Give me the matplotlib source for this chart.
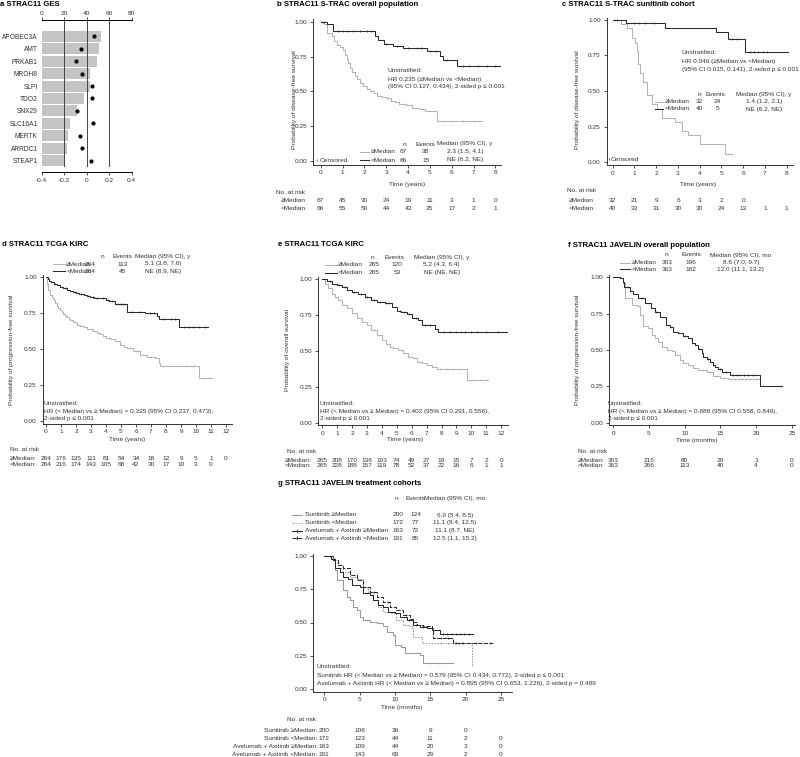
import numpy as np
import matplotlib
matplotlib.use('Agg')
import matplotlib.pyplot as plt
from matplotlib.lines import Line2D
from matplotlib import transforms

plt.rcParams['font.family'] = ['Liberation Sans', 'DejaVu Sans']
W, H = 800, 757
fig = plt.figure(figsize=(8, 7.57), dpi=100)

FS = 4.65
TFS = 5.6
LIGHT = '#b4b4b4'
DARK = '#2a2a2a'
TXT = '#333333'
LW = 0.75

# ---------------- data ----------------
genes = ['APOBEC3A', 'AMT', 'PRKAB1', 'MROH8', 'SLPI', 'TDO2', 'SNX29',
         'SLC16A1', 'MERTK', 'ARRDC1', 'STEAP1']
ges_freq = [53.1, 50.7, 48.9, 43.0, 42.7, 37.9, 31.6, 25.3, 23.8, 22.9, 20.3]
ges_coef = [0.065, -0.053, -0.098, -0.044, 0.044, 0.050, -0.086, 0.060, -0.056, -0.044, 0.036]

# b: S-TRAC overall
b_hi_t = [0, 0.15, 0.28, 0.5, 0.6, 0.73, 0.9, 1.04, 1.12, 1.2, 1.27, 1.35, 1.45, 1.55, 1.65, 1.8,
          1.95, 2.1, 2.26, 2.45, 2.6, 2.8, 3.0, 3.2, 3.4, 3.6, 3.9, 4.2, 4.5, 4.8, 5.32, 7.38]
b_hi_s = [1.0, 0.985, 0.92, 0.9, 0.86, 0.83, 0.82, 0.80, 0.76, 0.73, 0.70, 0.67, 0.64, 0.61, 0.59, 0.56,
          0.54, 0.52, 0.50, 0.49, 0.47, 0.46, 0.45, 0.43, 0.42, 0.41, 0.40, 0.38, 0.37, 0.36, 0.287, 0.287]
b_hi_c = [0.05, 3.1, 3.8, 5.6, 6.0, 6.5, 7.0]
b_lo_t = [0, 0.28, 0.55, 2.49, 2.64, 2.9, 3.33, 3.79, 4.86, 5.47, 5.62, 6.24, 8.22]
b_lo_s = [1.0, 0.98, 0.93, 0.90, 0.87, 0.84, 0.826, 0.81, 0.79, 0.756, 0.726, 0.68, 0.68]
b_lo_c = [0.1, 0.8, 1.0, 1.2, 1.5, 1.8, 2.1, 2.3, 3.0, 3.5, 4.0, 4.4, 4.6, 5.0, 5.3, 5.8, 6.5, 6.8, 7.2, 7.6, 8.0]
b_risk_t = [0, 1, 2, 3, 4, 5, 6, 7, 8]
b_risk_hi = [67, 45, 30, 24, 19, 11, 3, 1, 0]
b_risk_lo = [66, 55, 50, 44, 43, 35, 17, 2, 1]

# c: S-TRAC sunitinib
c_hi_t = [0, 0.4, 0.67, 0.87, 1.03, 1.1, 1.18, 1.26, 1.41, 1.56, 1.79, 2.02, 2.25, 2.86, 3.17, 3.48, 4.01, 5.16, 5.47]
c_hi_s = [1.0, 0.97, 0.94, 0.875, 0.84, 0.78, 0.69, 0.625, 0.56, 0.47, 0.41, 0.375, 0.31, 0.28, 0.22, 0.19, 0.125, 0.06, 0.06]
c_hi_c = [0.1, 5.3]
c_lo_t = [0, 0.6, 2.4, 4.75, 5.32, 6.08, 8.07]
c_lo_s = [1.0, 0.976, 0.944, 0.913, 0.863, 0.776, 0.776]
c_lo_c = [0.2, 1.0, 1.2, 1.5, 1.9, 5.5, 5.7, 6.3, 6.5, 6.7, 6.9, 7.1]
c_risk_t_hi = [0, 1, 2, 3, 4, 5, 6]
c_risk_hi = [32, 21, 9, 6, 3, 2, 0]
c_risk_t_lo = [0, 1, 2, 3, 4, 5, 6, 7, 8]
c_risk_lo = [40, 33, 31, 30, 30, 24, 13, 1, 1]

# d: TCGA KIRC PFS
d_hi_t = [0, 0.08, 0.16, 0.27, 0.4, 0.5, 0.6, 0.71, 0.82, 0.93, 1.04, 1.16, 1.27, 1.38, 1.5, 1.6, 1.8, 2.04,
          2.25, 2.5, 2.7, 2.93, 3.16, 3.38, 3.6, 3.8, 4.0, 4.3, 4.6, 4.93, 5.2, 5.4, 5.8, 6.27, 6.7, 7.27,
          7.5, 7.6, 10.2, 11.04]
d_hi_s = [1.0, 0.95, 0.91, 0.87, 0.855, 0.84, 0.82, 0.80, 0.785, 0.77, 0.755, 0.74, 0.73, 0.72, 0.71, 0.70,
          0.685, 0.665, 0.655, 0.65, 0.64, 0.635, 0.625, 0.61, 0.60, 0.59, 0.575, 0.565, 0.555, 0.527, 0.515,
          0.503, 0.485, 0.457, 0.446, 0.434, 0.40, 0.38, 0.296, 0.296]
d_hi_c = [3.0, 3.5, 4.2, 5.0, 5.6, 6.0, 6.5, 7.0, 7.8, 8.2, 8.7, 9.3, 9.8, 10.5, 10.9]
d_lo_t = [0, 0.1, 0.2, 0.35, 0.5, 0.7, 0.9, 1.16, 1.4, 1.6, 1.8, 2.0, 2.2, 2.5, 2.7, 2.9, 3.2, 3.6, 4.0,
          4.2, 4.5, 4.6, 5.4, 6.6, 7.4, 7.5, 8.87, 10.8]
d_lo_s = [1.0, 0.985, 0.97, 0.96, 0.95, 0.94, 0.93, 0.92, 0.91, 0.90, 0.895, 0.885, 0.88, 0.87, 0.865,
          0.857, 0.855, 0.85, 0.84, 0.835, 0.83, 0.81, 0.757, 0.746, 0.73, 0.71, 0.654, 0.654]
d_lo_c = [0.6, 1.3, 1.9, 2.3, 2.8, 3.1, 3.4, 3.8, 4.1, 4.4, 4.8, 5.0, 5.2, 5.7, 6.2, 6.9, 7.2, 7.8, 8.3,
          8.6, 9.2, 9.5, 9.8, 10.2, 10.6]
d_risk_t_hi = [0, 1, 2, 3, 4, 5, 6, 7, 8, 9, 10, 11, 12]
d_risk_hi = [264, 176, 135, 111, 81, 54, 34, 18, 12, 9, 5, 1, 0]
d_risk_t_lo = [0, 1, 2, 3, 4, 5, 6, 7, 8, 9, 10, 11]
d_risk_lo = [264, 216, 174, 143, 105, 68, 42, 30, 17, 10, 3, 0]

# e: TCGA KIRC OS
e_hi_t = [0, 0.18, 0.4, 0.63, 0.85, 1.07, 1.3, 1.63, 1.97, 2.3, 2.64, 2.98, 3.3, 3.65, 3.98, 4.3, 4.54,
          4.77, 5.1, 5.44, 5.77, 6.1, 6.33, 6.67, 7.0, 7.34, 7.67, 9.73, 11.1]
e_hi_s = [1.0, 0.97, 0.937, 0.90, 0.88, 0.856, 0.82, 0.80, 0.763, 0.728, 0.705, 0.68, 0.647, 0.612, 0.577,
          0.547, 0.53, 0.519, 0.507, 0.484, 0.46, 0.449, 0.426, 0.419, 0.40, 0.386, 0.372, 0.30, 0.30]
e_hi_c = [2.0, 3.5, 5.3, 6.5, 7.9, 8.3, 8.8, 9.2, 10.1, 10.6, 11.0]
e_lo_t = [0, 0.3, 0.63, 0.96, 1.3, 1.63, 1.97, 2.4, 2.86, 3.3, 3.65, 4.2, 4.65, 5.0, 5.3, 5.66, 6.0,
          6.44, 6.67, 7.56, 7.74, 12.37]
e_lo_s = [1.0, 0.985, 0.97, 0.96, 0.944, 0.925, 0.914, 0.898, 0.879, 0.856, 0.844, 0.833, 0.81, 0.78,
          0.774, 0.758, 0.728, 0.716, 0.68, 0.65, 0.635, 0.635]
e_lo_c = [0.5, 1.1, 1.5, 2.1, 2.6, 3.0, 3.5, 3.9, 4.3, 4.5, 5.2, 5.5, 5.8, 6.3, 6.9, 7.2, 8.2, 8.6, 9.0,
          9.3, 9.6, 10.0, 10.4, 11.0, 11.8]
e_risk_t = [0, 1, 2, 3, 4, 5, 6, 7, 8, 9, 10, 11, 12]
e_risk_hi = [265, 208, 170, 136, 103, 74, 49, 27, 19, 15, 7, 2, 0]
e_risk_lo = [265, 228, 188, 157, 119, 78, 52, 37, 22, 16, 6, 1, 1]

# f: JAVELIN overall
f_hi_t = [0, 0.93, 1.3, 1.64, 2.57, 3.27, 3.74, 4.2, 4.9, 5.37, 5.84, 6.3, 6.78, 7.48, 8.18, 8.64, 9.35,
          9.8, 10.5, 11.2, 11.9, 13.1, 14.0, 14.95, 16.1, 20.56, 23.6]
f_hi_s = [1.0, 0.993, 0.96, 0.856, 0.81, 0.80, 0.74, 0.665, 0.65, 0.60, 0.58, 0.557, 0.523, 0.50, 0.49,
          0.466, 0.43, 0.41, 0.397, 0.374, 0.362, 0.35, 0.32, 0.31, 0.298, 0.252, 0.252]
f_hi_c = [12.5, 13.5, 14.5, 15.5, 16.5, 17.0, 17.5, 18.0, 18.5, 19.0, 19.5, 20.0]
f_lo_t = [0, 0.93, 1.3, 1.5, 2.34, 2.8, 3.5, 4.44, 5.23, 5.84, 6.54, 7.38, 7.94, 8.4, 9.1, 9.8, 10.5,
          11.0, 11.45, 11.9, 12.4, 12.6, 13.1, 13.55, 13.9, 14.25, 14.7, 15.2, 16.35, 20.56, 23.6]
f_lo_s = [1.0, 0.993, 0.97, 0.93, 0.908, 0.885, 0.856, 0.82, 0.787, 0.764, 0.73, 0.672, 0.66, 0.626,
          0.615, 0.596, 0.58, 0.55, 0.534, 0.505, 0.477, 0.454, 0.436, 0.42, 0.397, 0.385, 0.367, 0.35,
          0.33, 0.252, 0.252]
f_lo_c = [2.0, 4.0, 6.0, 8.0, 10.0, 12.0, 13.3, 14.0, 15.0, 15.8, 16.8, 17.3, 17.8, 18.3, 18.8, 19.5]
f_risk_t = [0, 5, 10, 15, 20, 25]
f_risk_hi = [363, 215, 80, 29, 3, 0]
f_risk_lo = [363, 266, 113, 40, 4, 0]

# g: JAVELIN treatment cohorts
g_sh_t = [0, 1.27, 1.5, 1.75, 2.7, 3.16, 3.6, 4.0, 4.6, 5.05, 5.5, 6.46, 7.4, 8.35, 8.8, 9.76, 10.0,
          10.9, 11.4, 13.5, 14.0, 18.25]
g_sh_s = [1.0, 0.97, 0.895, 0.82, 0.745, 0.694, 0.67, 0.62, 0.594, 0.544, 0.52, 0.506, 0.494, 0.47,
          0.43, 0.406, 0.33, 0.318, 0.268, 0.256, 0.193, 0.193]
g_sh_c = [15.0, 16.0, 17.0]
g_sl_t = [0, 0.8, 1.5, 2.0, 2.7, 3.6, 4.6, 5.5, 6.2, 6.9, 7.6, 8.35, 9.3, 10.2, 11.2, 11.9, 12.4, 12.6,
          13.8, 20.85]
g_sl_s = [1.0, 0.985, 0.945, 0.907, 0.88, 0.845, 0.83, 0.77, 0.73, 0.67, 0.62, 0.58, 0.57, 0.52, 0.48,
          0.47, 0.456, 0.39, 0.343, 0.168]
g_sl_c = [16.5, 17.5, 18.5, 19.5]
g_ah_t = [0, 1.0, 1.5, 2.2, 2.7, 3.4, 3.87, 5.0, 5.5, 6.46, 6.9, 7.6, 8.35, 9.05, 10.0, 10.7, 11.65,
          12.6, 13.5, 14.5, 15.2, 16.4, 21.1]
g_ah_s = [1.0, 0.98, 0.907, 0.88, 0.845, 0.83, 0.78, 0.77, 0.72, 0.707, 0.67, 0.63, 0.62, 0.58, 0.57,
          0.544, 0.52, 0.48, 0.464, 0.456, 0.444, 0.414, 0.414]
g_ah_c = [12.0, 13.0, 14.0, 16.8, 17.4, 18.0, 18.6, 19.2, 19.8, 20.4]
g_al_t = [0, 1.27, 2.0, 2.7, 3.6, 4.6, 5.5, 6.46, 7.4, 8.35, 9.3, 10.2, 11.2, 12.1, 12.6, 13.07, 14.0,
          15.2, 15.4, 18.25, 23.9]
g_al_s = [1.0, 0.97, 0.93, 0.907, 0.857, 0.82, 0.77, 0.73, 0.694, 0.657, 0.62, 0.594, 0.556, 0.53,
          0.506, 0.48, 0.47, 0.456, 0.38, 0.343, 0.343]
g_al_c = [7.0, 9.0, 11.5, 16.5, 17.5, 18.6, 19.0, 19.6, 21.5, 23.5]
g_risk_t = [0, 5, 10, 15, 20, 25]
g_risk_sh = [200, 106, 36, 9, 0]
g_risk_sl = [172, 123, 44, 11, 2, 0]
g_risk_ah = [163, 109, 44, 20, 3, 0]
g_risk_al = [191, 143, 69, 29, 2, 0]


# ---------------- helpers ----------------
def T(x, y, s, ha='left', va='center', size=FS, **kw):
    kw.setdefault('color', TXT)
    return fig.text(x / W, 1 - y / H, s, ha=ha, va=va, fontsize=size, **kw)


def leg_line(x0, x1, y, color, ls='-', lw=LW, marker=None):
    fig.add_artist(Line2D([x0 / W, x1 / W], [1 - y / H, 1 - y / H], color=color, ls=ls, lw=lw))
    if marker:
        fig.add_artist(Line2D([(x0 + x1) / 2 / W], [1 - y / H], color=color, ls='none',
                              marker=marker, ms=2.5, mew=0.5))


def km_ax(left, right, top, bottom, t0, tsc, s0, s1, xticks):
    ax = fig.add_axes([left / W, 1 - bottom / H, (right - left) / W, (bottom - top) / H])
    ax.set_xlim((left - t0) / tsc, (right - t0) / tsc)
    ysc = s0 - s1
    ax.set_ylim((s0 - bottom) / ysc, (s0 - top) / ysc)
    for sp in ['top', 'right']:
        ax.spines[sp].set_visible(False)
    for sp in ['left', 'bottom']:
        ax.spines[sp].set_linewidth(0.7)
        ax.spines[sp].set_color('#333333')
    ax.set_xticks(xticks)
    ax.set_yticks([0, 0.25, 0.5, 0.75, 1.0])
    ax.set_yticklabels(['0.00', '0.25', '0.50', '0.75', '1.00'])
    ax.tick_params(length=2.5, width=0.6, labelsize=FS, pad=1.8, colors='#333333')
    ax.patch.set_alpha(0)
    return ax


def km_curve(ax, t, s, color, ls='-', lw=LW, cens=None, marker='|'):
    ax.step(t, s, where='post', color=color, lw=lw, ls=ls)
    if cens:
        idx = np.searchsorted(np.asarray(t), np.asarray(cens), side='right') - 1
        y = np.asarray(s)[idx]
        ax.plot(cens, y, ls='none', marker=marker, ms=2.0, mew=0.5, color=color)


def risk_row(ax, times, vals, y_px):
    tr = transforms.blended_transform_factory(ax.transData, fig.transFigure)
    for t, v in zip(times, vals):
        ax.text(t, 1 - y_px / H, str(v), transform=tr, ha='center', va='center',
                fontsize=FS, color=TXT, clip_on=False)


# ---------------- panel a ----------------
T(0, 4, 'a STRAC11 GES', size=TFS, weight='bold', color='black')
ax_a = fig.add_axes([41.7 / W, 1 - 167 / H, (131.7 - 41.7) / W, (167 - 20) / H])
ypos = np.arange(len(genes))
ax_a.barh(ypos, ges_freq, height=0.88, color='#c4c4c4', zorder=1)
ax_a.set_ylim(len(genes) - 0.5, -0.5 - 0.8)
ax_a.set_xlim(0, 80)
for v in [20, 40, 60, 80]:
    ax_a.axvline(v, color='#444444', lw=0.7, zorder=2)
ax_a.xaxis.tick_top()
ax_a.set_xticks([0, 20, 40, 60, 80])
ax_a.set_yticks(ypos)
ax_a.set_yticklabels(genes)
ax_a.tick_params(axis='x', length=2, width=0.6, labelsize=FS, pad=1, colors='#333333')
ax_a.tick_params(axis='y', length=0, labelsize=4.75, pad=3, colors='#333333')
for sp in ['right', 'bottom', 'left']:
    ax_a.spines[sp].set_visible(False)
ax_a.spines['top'].set_linewidth(0.7)
ax_a.patch.set_alpha(0)

ax_a2 = fig.add_axes([41.7 / W, 1 - 172 / H, (131.7 - 41.7) / W, (172 - 20) / H])
ax_a2.set_xlim(-0.4, 0.4)
y_lo = len(genes) - 0.5 + (172 - 167) / ((167 - 20) / (len(genes) + 0.8))
ax_a2.set_ylim(y_lo, -0.5 - 0.8)
ax_a2.plot(ges_coef, ypos, ls='none', marker='o', ms=2.0, color='black', zorder=3)
ax_a2.set_xticks([-0.4, -0.2, 0, 0.2, 0.4])
ax_a2.set_xticklabels(['-0.4', '-0.2', '0', '0.2', '0.4'])
ax_a2.set_yticks([])
ax_a2.tick_params(axis='x', length=2, width=0.6, labelsize=FS, pad=2, colors='#333333')
for sp in ['right', 'top', 'left']:
    ax_a2.spines[sp].set_visible(False)
ax_a2.spines['bottom'].set_linewidth(0.7)
ax_a2.patch.set_alpha(0)

# ---------------- panel b ----------------
T(276.7, 4, 'b STRAC11 S-TRAC overall population', size=TFS, weight='bold', color='black')
ax_b = km_ax(313.3, 501, 19, 164.5, 320.7, 21.83, 161, 21.7, range(0, 9))
km_curve(ax_b, b_hi_t, b_hi_s, LIGHT, cens=b_hi_c)
km_curve(ax_b, b_lo_t, b_lo_s, DARK, cens=b_lo_c)
T(294.5, 100, 'Probability of disease-free survival', ha='center', rotation=90)
T(406.7, 184.3, 'Time (years)', ha='center')
T(388, 70, 'Unstratified:')
T(388, 79.3, 'HR 0.235 (≥Median vs <Median)')
T(388, 86.7, '(95% CI 0.127, 0.434), 2-sided p ≤ 0.001')
T(404, 144, 'n', ha='center'); T(425.7, 144, 'Events', ha='center'); T(465, 144, 'Median (95% CI), y', ha='center')
leg_line(360, 369.3, 151.7, LIGHT); T(371, 151.7, '≥Median')
T(403.3, 151.7, '67', ha='center'); T(425.7, 151.7, '38', ha='center'); T(465, 151.7, '2.3 (1.5, 4.1)', ha='center')
leg_line(360, 369.3, 160, DARK); T(371, 160, '<Median')
T(403.3, 160, '66', ha='center'); T(425.7, 160, '15', ha='center'); T(465, 160, 'NE (6.2, NE)', ha='center')
fig.add_artist(Line2D([317.3 / W], [1 - 160 / H], ls='none', marker='|', ms=2.0, mew=0.5, color=DARK))
T(320, 160, 'Censored')
T(276, 192, 'No. at risk')
T(280.7, 200.7, '≥Median'); T(280.7, 208.7, '<Median')
risk_row(ax_b, b_risk_t, b_risk_hi, 200.7)
risk_row(ax_b, b_risk_t, b_risk_lo, 208.7)

# ---------------- panel c ----------------
T(561.7, 5, 'c STRAC11 S-TRAC sunitinib cohort', size=TFS, weight='bold', color='black')
ax_c = km_ax(606.7, 793, 18, 165, 612.7, 21.75, 162.2, 19.8, range(0, 9))
km_curve(ax_c, c_hi_t, c_hi_s, LIGHT, cens=c_hi_c)
km_curve(ax_c, c_lo_t, c_lo_s, DARK, cens=c_lo_c)
T(577, 100, 'Probability of disease-free survival', ha='center', rotation=90)
T(698, 184.3, 'Time (years)', ha='center')
T(681.7, 52.7, 'Unstratified:')
T(681.7, 61.7, 'HR 0.046 (≥Median vs <Median)')
T(681.7, 70, '(95% CI 0.015, 0.141), 2-sided p ≤ 0.001')
T(699, 94.3, 'n', ha='center'); T(715, 94.3, 'Events', ha='center'); T(764, 94.3, 'Median (95% CI), y', ha='center')
leg_line(655, 663.3, 101.7, LIGHT); T(664.5, 101.7, '≥Median')
T(699, 101.7, '32', ha='center'); T(717.7, 101.7, '24', ha='center'); T(764, 101.7, '1.4 (1.2, 2.1)', ha='center')
leg_line(655, 663.3, 109, DARK); T(664.5, 109, '<Median')
T(699, 109, '40', ha='center'); T(717.7, 109, '5', ha='center'); T(764, 109, 'NE (6.2, NE)', ha='center')
fig.add_artist(Line2D([608.5 / W], [1 - 159.3 / H], ls='none', marker='|', ms=2.0, mew=0.5, color=DARK))
T(610.5, 159.3, 'Censored')
T(566.7, 190.7, 'No. at risk')
T(568.3, 200, '≥Median'); T(568.3, 208.7, '<Median')
risk_row(ax_c, c_risk_t_hi, c_risk_hi, 200)
risk_row(ax_c, c_risk_t_lo, c_risk_lo, 208.7)

# ---------------- panel d ----------------
T(2, 245, 'd STRAC11 TCGA KIRC', size=TFS, weight='bold', color='black')
ax_d = km_ax(42.7, 231.7, 275, 423.5, 46, 15.0, 421, 276.7, range(0, 13))
km_curve(ax_d, d_hi_t, d_hi_s, LIGHT, cens=d_hi_c)
km_curve(ax_d, d_lo_t, d_lo_s, DARK, cens=d_lo_c)
T(11.5, 350, 'Probability of progression-free survival', ha='center', rotation=90)
T(126.7, 440, 'Time (years)', ha='center')
T(44, 403.3, 'Unstratified:')
T(44, 411, 'HR (< Median vs ≥ Median) = 0.335 (95% CI 0.237, 0.473),')
T(44, 418.3, '2-sided p ≤ 0.001')
T(102.7, 256, 'n', ha='center'); T(122.7, 256, 'Events', ha='center'); T(163, 256, 'Median (95% CI), y', ha='center')
leg_line(53, 65, 264, LIGHT); T(66.2, 264, '≥Median')
T(90, 264, '264', ha='center'); T(122.7, 264, '113', ha='center'); T(163, 264, '5.1 (3.8, 7.6)', ha='center')
leg_line(53, 65, 271.3, DARK); T(66.2, 271.3, '<Median')
T(90, 271.3, '264', ha='center'); T(122.7, 271.3, '45', ha='center'); T(163, 271.3, 'NE (8.9, NE)', ha='center')
T(10, 449.5, 'No. at risk')
T(10, 458.5, '≥Median:'); T(10, 464.3, '<Median:')
risk_row(ax_d, d_risk_t_hi, d_risk_hi, 458.5)
risk_row(ax_d, d_risk_t_lo, d_risk_lo, 464.3)

# ---------------- panel e ----------------
T(278, 245, 'e STRAC11 TCGA KIRC', size=TFS, weight='bold', color='black')
ax_e = km_ax(318.3, 508, 277, 425, 322.3, 14.9, 422.7, 279.3, range(0, 13))
km_curve(ax_e, e_hi_t, e_hi_s, LIGHT, cens=e_hi_c)
km_curve(ax_e, e_lo_t, e_lo_s, DARK, cens=e_lo_c)
T(288, 350, 'Probability of overall survival', ha='center', rotation=90)
T(405, 440, 'Time (years)', ha='center')
T(319.5, 403.3, 'Unstratified:')
T(319.5, 411.3, 'HR (< Median vs ≥ Median) = 0.402 (95% CI 0.291, 0.556),')
T(319.5, 418.7, '2-sided p ≤ 0.001')
T(372.3, 257.3, 'n', ha='center'); T(394, 257.3, 'Events', ha='center'); T(441.7, 257.3, 'Median (95% CI), y', ha='center')
leg_line(325, 336.7, 265, LIGHT); T(338, 265, '≥Median')
T(374.3, 265, '265', ha='center'); T(397.3, 265, '120', ha='center'); T(441.7, 265, '5.2 (4.3, 6.4)', ha='center')
leg_line(325, 336.7, 272.7, DARK); T(338, 272.7, '<Median')
T(374.3, 272.7, '265', ha='center'); T(397.3, 272.7, '53', ha='center'); T(441.7, 272.7, 'NE (NE, NE)', ha='center')
T(286.7, 451.7, 'No. at risk')
T(284.3, 460, '≥Median:'); T(284.3, 465.5, '<Median:')
risk_row(ax_e, e_risk_t, e_risk_hi, 460)
risk_row(ax_e, e_risk_t, e_risk_lo, 465.5)

# ---------------- panel f ----------------
T(568, 245.7, 'f STRAC11 JAVELIN overall population', size=TFS, weight='bold', color='black')
ax_f = km_ax(609.3, 795, 275, 425, 613.3, 7.14, 422.7, 277.3, [0, 5, 10, 15, 20, 25])
km_curve(ax_f, f_hi_t, f_hi_s, LIGHT, cens=f_hi_c)
km_curve(ax_f, f_lo_t, f_lo_s, DARK, cens=f_lo_c)
T(578, 350, 'Probability of progression-free survival', ha='center', rotation=90)
T(696.7, 440.7, 'Time (months)', ha='center')
T(607.5, 403.3, 'Unstratified:')
T(607.5, 411.3, 'HR (< Median vs ≥ Median) = 0.688 (95% CI 0.558, 0.849),')
T(607.5, 418.3, '2-sided p ≤ 0.001')
T(666.7, 255, 'n', ha='center'); T(691, 255, 'Events', ha='center'); T(740.7, 255, 'Median (95% CI), mo', ha='center')
leg_line(620, 630, 262.7, LIGHT); T(631.7, 262.7, '≥Median')
T(667.3, 262.7, '363', ha='center'); T(691, 262.7, '196', ha='center'); T(740.7, 262.7, '8.6 (7.0, 9.7)', ha='center')
leg_line(620, 630, 269.3, DARK); T(631.7, 269.3, '<Median')
T(667.3, 269.3, '363', ha='center'); T(691, 269.3, '162', ha='center'); T(740.7, 269.3, '12.0 (11.1, 13.2)', ha='center')
T(578, 451.7, 'No. at risk')
T(578, 460, '≥Median:'); T(578, 465.7, '<Median:')
risk_row(ax_f, f_risk_t, f_risk_hi, 460)
risk_row(ax_f, f_risk_t, f_risk_lo, 465.7)

# ---------------- panel g ----------------
T(278, 483.3, 'g STRAC11 JAVELIN treatment cohorts', size=TFS, weight='bold', color='black')
ax_g = km_ax(313.3, 512, 554, 691.5, 324.3, 7.07, 689, 556, [0, 5, 10, 15, 20, 25])
GSUN = '#999999'
km_curve(ax_g, g_sh_t, g_sh_s, GSUN, cens=g_sh_c)
km_curve(ax_g, g_sl_t, g_sl_s, GSUN, ls=(0, (1.5, 1.2)), cens=g_sl_c)
km_curve(ax_g, g_ah_t, g_ah_s, DARK, cens=g_ah_c)
km_curve(ax_g, g_al_t, g_al_s, DARK, ls=(0, (4, 1.5)), cens=g_al_c, marker='+')
T(401.7, 707.3, 'Time (months)', ha='center')
T(316.7, 666, 'Unstratified:')
T(316.7, 675, 'Sunitinib HR (< Median vs ≥ Median) = 0.579 (95% CI 0.434, 0.772), 2-sided p ≤ 0.001')
T(316.7, 683.3, 'Avelumab + Axitinib HR (< Median vs ≥ Median) = 0.895 (95% CI 0.653, 1.226), 2-sided p = 0.489')
T(396.7, 498.3, 'n', ha='center'); T(415, 498.3, 'Events', ha='center'); T(455, 498.3, 'Median (95% CI), mo', ha='center')
g_rows = [('Sunitinib ≥Median', '200', '124', '6.9 (5.4, 8.5)', GSUN, '-', None, 515),
          ('Sunitinib <Median', '172', '77', '11.1 (8.4, 12.5)', GSUN, (0, (1.5, 1.2)), None, 522.7),
          ('Avelumab + Axitinib ≥Median', '163', '72', '11.1 (8.7, NE)', DARK, '-', '|', 530.7),
          ('Avelumab + Axitinib <Median', '191', '85', '12.5 (1.1, 15.2)', DARK, (0, (4, 1.5)), '+', 538.3)]
for lab, n, ev, med, col, ls, mk, yy in g_rows:
    leg_line(291.7, 301.7, yy, col, ls=ls, marker=mk)
    T(305, yy, lab)
    T(398.3, yy, n, ha='center'); T(415.7, yy, ev, ha='center'); T(455, yy, med, ha='center')
T(315.7, 719.3, 'No. at risk', ha='right')
g_risk_rows = [('Sunitinib ≥Median:', g_risk_sh, 730),
               ('Sunitinib <Median:', g_risk_sl, 738.3),
               ('Avelumab + Axitinib ≥Median:', g_risk_ah, 746),
               ('Avelumab + Axitinib <Median:', g_risk_al, 754.3)]
for lab, vals, yy in g_risk_rows:
    T(317.3, yy, lab, ha='right')
    risk_row(ax_g, g_risk_t[:len(vals)], vals, yy)

fig.savefig('out.png', dpi=100)
